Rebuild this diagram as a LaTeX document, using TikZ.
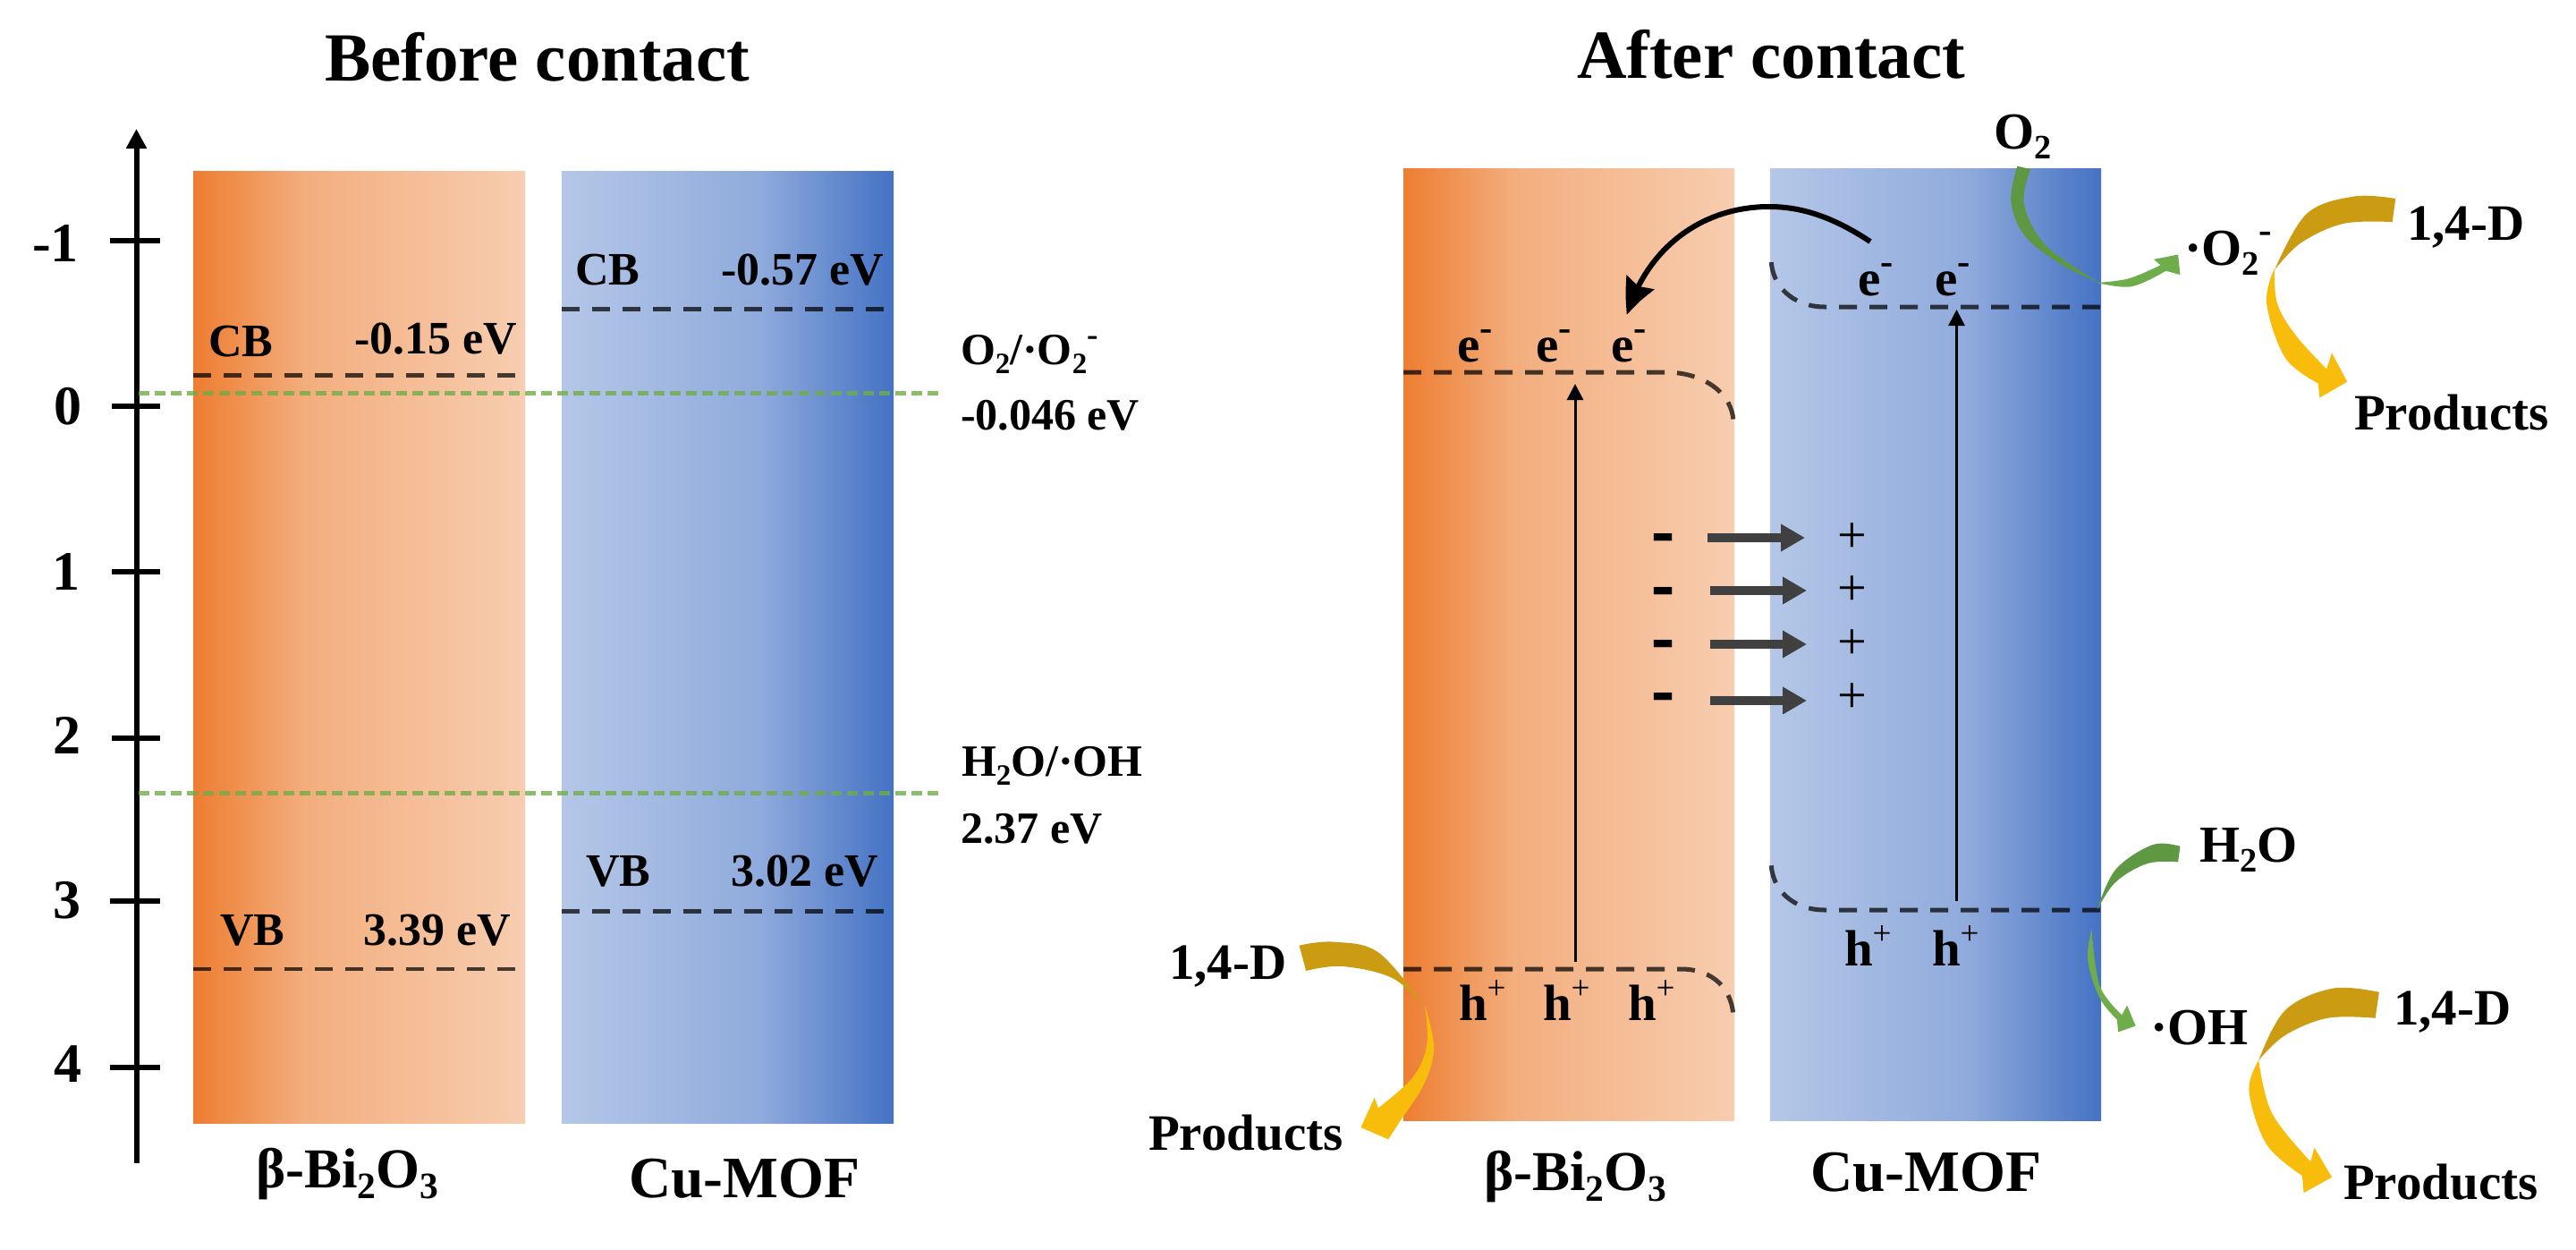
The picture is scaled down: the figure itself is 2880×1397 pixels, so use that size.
\documentclass[tikz,border=0pt]{standalone}
\usepackage{fontspec}
\setmainfont{Liberation Serif}
\usetikzlibrary{arrows.meta,bending}
\definecolor{gA}{HTML}{5E9842}
\definecolor{gB}{HTML}{6FAD4C}
\definecolor{yA}{HTML}{CB9C12}
\definecolor{yB}{HTML}{F7BD0A}
\definecolor{lineGreen}{HTML}{70AD47}
\pgfdeclarehorizontalshading{orangeband}{100bp}{
 color(0bp)=(rgb,255:red,237;green,125;blue,49);
 color(25bp)=(rgb,255:red,237;green,125;blue,49);
 color(42bp)=(rgb,255:red,243;green,174;blue,126);
 color(75bp)=(rgb,255:red,247;green,205;blue,176);
 color(100bp)=(rgb,255:red,247;green,205;blue,176)}
\pgfdeclarehorizontalshading{blueband}{100bp}{
 color(0bp)=(rgb,255:red,180;green,199;blue,231);
 color(25bp)=(rgb,255:red,180;green,199;blue,231);
 color(55bp)=(rgb,255:red,143;green,170;blue,220);
 color(75bp)=(rgb,255:red,68;green,114;blue,196);
 color(100bp)=(rgb,255:red,68;green,114;blue,196)}
\newcommand\lowidx[1]{\raisebox{-.2em}{\scalebox{.66}{#1}}}
\newcommand\highidx[1]{\raisebox{.42em}{\scalebox{.75}{#1}}}
\newcommand\elec{e\highidx{-}}
\newcommand\hole{h\raisebox{.42em}{\mdseries\scalebox{.65}{+}}}
\tikzset{
 txt/.style={inner sep=0pt,outer sep=0pt,anchor=base west,font=\fontsize{#1}{#1}\selectfont\bfseries},
 txt/.default=52,
 plain/.style={inner sep=0pt,outer sep=0pt,anchor=base,font=\fontsize{58}{58}\selectfont},
 band/.style={inner sep=0pt,outer sep=0pt,minimum width=#1,minimum height=1064pt,anchor=north west},
 tick/.style={line width=6pt,black},
 level/.style={line width=5pt,black,opacity=.72,dash pattern=on 20pt off 14pt},
 redox/.style={line width=5pt,lineGreen,opacity=.8,dash pattern=on 12pt off 6pt},
 pump/.style={line width=3pt,black,-{Triangle[length=18pt,width=18pt]}},
 field/.style={line width=10pt,black!75,-{Triangle[length=27pt,width=29pt]}},
 zA/.style={shift={(1950,0)},xscale=.593,yscale=.357},
 zB/.style={shift={(1950,850)},xscale=.593,yscale=.3488},
 zC/.style={shift={(1200,1000)},xscale=.5102,yscale=.3333},
}
\begin{document}
\begin{tikzpicture}[x=1pt,y=-1pt]
\useasboundingbox (0,0) rectangle (2880,1397);
\fill[white] (0,0) rectangle (2880,1397);
% bands, left panel
\node[band=371pt,shading=orangeband] (bandA) at (216,191) {};
\node[band=371pt,shading=blueband] (bandB) at (628,191) {};
% bands, right panel
\node[band=370pt,shading=orangeband] (bandC) at (1569,188) {};
\node[band=370pt,shading=blueband] (bandD) at (1979,188) {};
% axis
\coordinate (axisBot) at (152.5,1300);
\coordinate (axisTop) at (152.5,144);
\draw[line width=6pt,black,-{Triangle[length=22pt,width=22pt]}] (axisBot) -- (axisTop);
\foreach \n/\y/\a in {m1/269/123,z0/454/125,p1/639/125,p2/825/125,p3/1007/123,p4/1193/123}{
 \coordinate (t\n) at (\a,\y);
 \coordinate (u\n) at (179,\y);
 \draw[tick] (t\n) -- (u\n);
}
\node[txt=62,anchor=base east] (lm1) at (88,292) {-1};
\node[txt=62,anchor=base east] (l0) at (91,474) {0};
\node[txt=62,anchor=base east] (l1) at (89,659) {1};
\node[txt=62,anchor=base east] (l2) at (90,842) {2};
\node[txt=62,anchor=base east] (l3) at (90,1026) {3};
\node[txt=62,anchor=base east] (l4) at (91,1209) {4};
% redox lines
\coordinate (ga) at (155,439); \coordinate (gb) at (1052,439);
\coordinate (gc) at (155,886); \coordinate (gd) at (1052,886);
\draw[redox] (ga) -- (gb);
\draw[redox] (gc) -- (gd);
% left band levels
\coordinate (cA1) at (216,419); \coordinate (cA2) at (580,419);
\coordinate (cB1) at (628,345); \coordinate (cB2) at (993,345);
\coordinate (vA1) at (216,1083); \coordinate (vA2) at (580,1083);
\coordinate (vB1) at (628,1018); \coordinate (vB2) at (993,1018);
\draw[level] (cA1) -- (cA2);
\draw[level] (cB1) -- (cB2);
\draw[level,line width=4pt] (vA1) -- (vA2);
\draw[level] (vB1) -- (vB2);
% left labels
\node[txt=77] (title1) at (363,91) {Before contact};
\node[txt] (cbA) at (233,398) {CB};
\node[txt] (cbAv) at (396,395) {-0.15 eV};
\node[txt] (cbB) at (643,318) {CB};
\node[txt] (cbBv) at (806,318) {-0.57 eV};
\node[txt] (vbB) at (655,990) {VB};
\node[txt] (vbBv) at (817,990) {3.02 eV};
\node[txt] (vbA) at (246,1056) {VB};
\node[txt] (vbAv) at (406,1056) {3.39 eV};
\node[txt=50] (redoxA) at (1074,407) {O\lowidx{2}/·O\lowidx{2}\highidx{-}};
\node[txt=50] (redoxAv) at (1074,480) {-0.046 eV};
\node[txt=50] (redoxB) at (1075,867) {H\lowidx{2}O/·OH};
\node[txt=50] (redoxBv) at (1074,942) {2.37 eV};
\node[txt=63] (nameA) at (286,1327) {β-Bi\lowidx{2}O\lowidx{3}};
\node[txt=65.5] (nameB) at (703,1338) {Cu-MOF};
% right panel
\node[txt=77] (title2) at (1763,88) {After contact};
\coordinate (cC1) at (1569,416); \coordinate (cC2) at (1862,416); \coordinate (cC3) at (1938,473);
\coordinate (cD1) at (2348,343); \coordinate (cD2) at (2040,343); \coordinate (cD3) at (1980,288);
\coordinate (vC1) at (1569,1083); \coordinate (vC2) at (1879,1083); \coordinate (vC3) at (1938,1140);
\coordinate (vD1) at (2348,1017); \coordinate (vD2) at (2040,1017); \coordinate (vD3) at (1980,962);
\draw[level] (cC1) -- (cC2) .. controls (1905,416) and (1938,440) .. (cC3);
\draw[level] (cD1) -- (cD2) .. controls (2005,343) and (1980,320) .. (cD3);
\draw[level] (vC1) -- (vC2) .. controls (1915,1083) and (1938,1105) .. (vC3);
\draw[level] (vD1) -- (vD2) .. controls (2005,1017) and (1980,995) .. (vD3);
\coordinate (pCa) at (1761,1075); \coordinate (pCb) at (1761,429);
\coordinate (pDa) at (2187.5,1007); \coordinate (pDb) at (2187.5,346);
\draw[pump] (pCa) -- (pCb);
\draw[pump] (pDa) -- (pDb);
% electron transfer
\coordinate (xfA) at (2091,270); \coordinate (xfM) at (1978,231); \coordinate (xfB) at (1819,352);
\draw[line width=6pt,black,-{Stealth[length=40pt,width=34pt,inset=5pt,bend]}] (xfA) .. controls (2050,243) and (2015,231) .. (xfM) .. controls (1900,231) and (1840,280) .. (xfB);
% field arrows
\foreach \n/\s/\e/\y in {a/1909/2018/601,b/1912/2020/660,c/1912/2020/720,d/1912/2020/783}{
 \coordinate (fs\n) at (\s,\y); \coordinate (fe\n) at (\e,\y);
 \draw[field] (fs\n) -- (fe\n);
}
\foreach \n/\y in {a/602,b/662,c/721,d/780}{
 \node[plain,font=\fontsize{54}{54}\selectfont\bfseries] (minus\n) at (1860,\y+21) {\scalebox{1.45}[1.8]{-}};
}
\foreach \n/\y in {a/601,b/660,c/720,d/780}{
 \node[plain] (plus\n) at (2070.5,\y+16) {+};
}
% curved reaction arrows
\begin{scope}[zA]
 \fill[gA] (515,520) -- (540,530) -- plot[smooth,tension=.6] coordinates {(540,530) (528,640) (570,770) (670,885)} -- plot[smooth,tension=.6] coordinates {(670,885) (600,830) (530,740) (503,630) (515,520)} -- cycle;
 \fill[gB] (665,885) -- plot[smooth,tension=.6] coordinates {(665,885) (730,897) (795,848)} -- (822,860) -- (818,797) -- (772,812) -- (785,830) -- plot[smooth,tension=.6] coordinates {(785,830) (725,872) (665,885)} -- cycle;
 \fill[yA] (1228,622) -- plot[smooth,tension=.6] coordinates {(1228,622) (1150,615) (1060,670) (1000,845)} -- plot[smooth,tension=.6] coordinates {(1000,845) (1050,760) (1130,700) (1222,695)} -- cycle;
 \fill[yB] (1000,840) -- plot[smooth,tension=.6] coordinates {(1000,840) (985,950) (1020,1120) (1082,1200)} -- (1085,1245) -- (1137,1195) -- (1108,1105) -- (1098,1155) -- plot[smooth,tension=.6] coordinates {(1098,1155) (1040,1050) (1005,950) (1000,840)} -- cycle;
\end{scope}
\begin{scope}[zB]
 \fill[gA] (822,275) -- plot[smooth,tension=.6] coordinates {(822,275) (770,270) (700,350) (665,480)} -- plot[smooth,tension=.6] coordinates {(665,480) (700,390) (760,330) (818,325)} -- cycle;
 \fill[gB] (655,540) -- plot[smooth,tension=.6] coordinates {(655,540) (648,640) (670,760) (703,830)} -- (705,870) -- (738,850) -- (722,785) -- (712,815) -- plot[smooth,tension=.6] coordinates {(712,815) (670,720) (655,540)} -- cycle;
 \fill[yA] (1197,742) -- plot[smooth,tension=.6] coordinates {(1197,742) (1110,730) (1020,800) (970,960)} -- plot[smooth,tension=.6] coordinates {(970,960) (1020,880) (1100,825) (1190,825)} -- cycle;
 \fill[yB] (970,960) -- plot[smooth,tension=.6] coordinates {(970,960) (952,1060) (985,1230) (1052,1330)} -- (1055,1385) -- (1108,1335) -- (1075,1240) -- (1068,1285) -- plot[smooth,tension=.6] coordinates {(1068,1285) (995,1130) (970,960)} -- cycle;
\end{scope}
\begin{scope}[zC]
 \fill[yA] (495,170) -- plot[smooth,tension=.6] coordinates {(495,170) (570,158) (670,195) (772,380)} -- plot[smooth,tension=.6] coordinates {(772,380) (700,280) (590,240) (510,255)} -- cycle;
 \fill[yB] (770,370) -- plot[smooth,tension=.6] coordinates {(770,370) (790,510) (770,630) (722,745)} -- (690,820) -- (630,780) -- (660,680) -- (668,715) -- plot[smooth,tension=.6] coordinates {(668,715) (745,610) (775,500) (770,370)} -- cycle;
\end{scope}
% right labels
\node[txt=57] (eC1) at (1629,404) {\elec};
\node[txt=57] (eC2) at (1717,404) {\elec};
\node[txt=57] (eC3) at (1801,404) {\elec};
\node[txt=57] (eD1) at (2077,330) {\elec};
\node[txt=57] (eD2) at (2163,330) {\elec};
\node[txt=57] (hC1) at (1631,1140) {\hole};
\node[txt=57] (hC2) at (1725,1140) {\hole};
\node[txt=57] (hC3) at (1820,1140) {\hole};
\node[txt=57] (hD1) at (2062,1079) {\hole};
\node[txt=57] (hD2) at (2160,1079) {\hole};
\node[txt=58] (oxA) at (2229,166) {O\lowidx{2}};
\node[txt=58] (radA) at (2442,296) {·O\lowidx{2}\highidx{-}};
\node[txt=57] (dA) at (2691,268) {1,4-D};
\node[txt=57] (prA) at (2632,480) {Products};
\node[txt=58] (wa) at (2459,963) {H\lowidx{2}O};
\node[txt=58] (radB) at (2404,1167) {·OH};
\node[txt=57] (dB) at (2676,1145) {1,4-D};
\node[txt=57] (prB) at (2620,1340) {Products};
\node[txt=57] (dC) at (1307,1094) {1,4-D};
\node[txt=57] (prC) at (1284,1285) {Products};
\node[txt=63] (nameC) at (1659,1330) {β-Bi\lowidx{2}O\lowidx{3}};
\node[txt=65.5] (nameD) at (2024,1331) {Cu-MOF};
\end{tikzpicture}
\end{document}
